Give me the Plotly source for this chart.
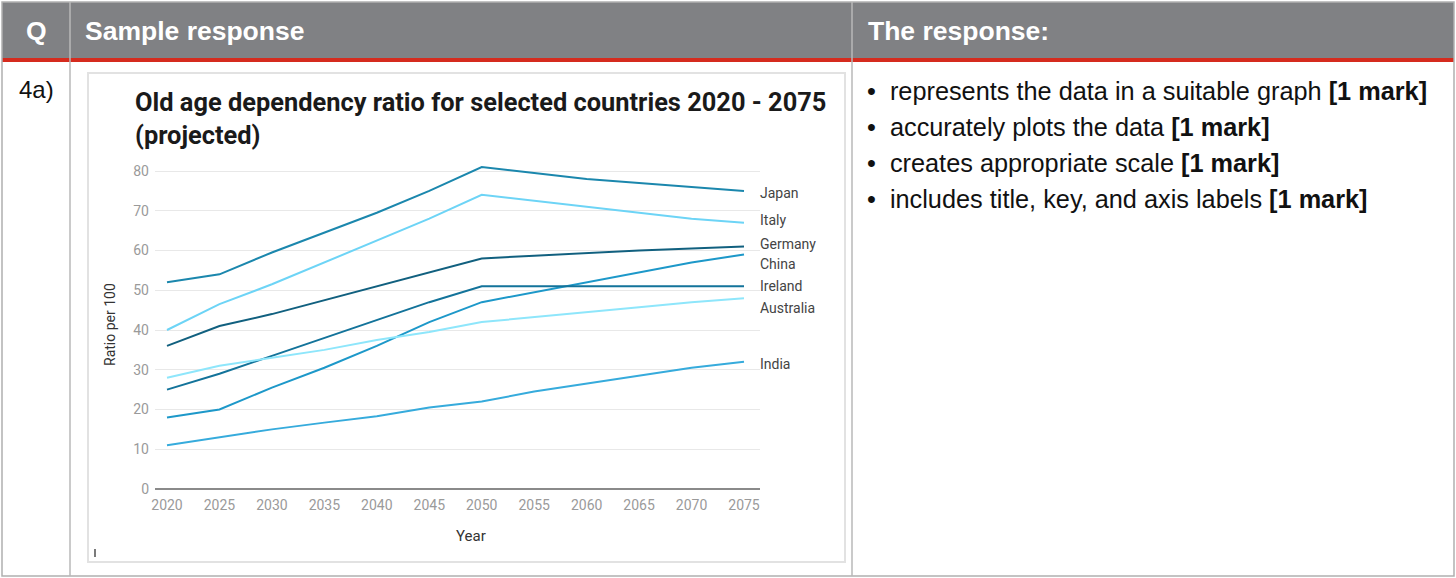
import plotly.graph_objects as go

years = [2020, 2025, 2030, 2035, 2040, 2045, 2050, 2055, 2060, 2065, 2070, 2075]
japan = [52, 54, 59.5, 64.5, 69.5, 75, 81, 79.5, 78, 77, 76, 75]
italy = [40, 46.5, 51.5, 57, 62.5, 68, 74, 72.5, 71, 69.5, 68, 67]
germany = [36, 41, 44, 47.5, 51, 54.5, 58, 58.7, 59.4, 60, 60.5, 61]
china = [18, 20, 25.5, 30.5, 36, 42, 47, 49.5, 52, 54.5, 57, 59]
ireland = [25, 29, 33.5, 38, 42.5, 47, 51, 51, 51, 51, 51, 51]
australia = [28, 31, 33, 35, 37.5, 39.5, 42, 43.2, 44.5, 45.7, 47, 48]
india = [11, 13, 15, 16.7, 18.3, 20.5, 22, 24.5, 26.5, 28.5, 30.5, 32]

countries = ["Japan", "Italy", "Germany", "China", "Ireland", "Australia", "India"]
series = [japan, italy, germany, china, ireland, australia, india]
colors = ["#1b87ad", "#6dd4f6", "#11607f", "#1d98c9", "#13739a", "#8ee6fb", "#36abdc"]
label_shift = [-2, 3, 3, -10, 0, -10, -2]

yticks = [0, 10, 20, 30, 40, 50, 60, 70, 80]
xticks = years

bullets = [
    "represents the data in a suitable graph",
    "accurately plots the data",
    "creates appropriate scale",
    "includes title, key, and axis labels",
]

W, H = 1456, 578


def px(x):
    return x / W


def py(y):
    return 1 - y / H


fig = go.Figure()
for name, vals, col in zip(countries, series, colors):
    fig.add_trace(go.Scatter(x=years, y=vals, mode="lines", name=name,
                             line=dict(color=col, width=2), showlegend=False,
                             hoverinfo="x+y+name"))

shapes = []
shapes.append(dict(type="rect", xref="paper", yref="paper", x0=px(2), x1=px(1454), y0=py(58), y1=py(2),
                   fillcolor="#808184", line=dict(width=0), layer="below"))
shapes.append(dict(type="rect", xref="paper", yref="paper", x0=px(2), x1=px(1454), y0=py(62), y1=py(58),
                   fillcolor="#d52b1e", line=dict(width=0), layer="below"))
shapes.append(dict(type="rect", xref="paper", yref="paper", x0=px(2), x1=px(1454), y0=py(576), y1=py(2),
                   fillcolor="rgba(0,0,0,0)", line=dict(color="#b0b0b0", width=1.5), layer="below"))
for cx in [70, 852]:
    shapes.append(dict(type="line", xref="paper", yref="paper", x0=px(cx), x1=px(cx), y0=py(576), y1=py(2),
                       line=dict(color="#b8b8b8", width=1.5), layer="below"))
shapes.append(dict(type="rect", xref="paper", yref="paper", x0=px(88), x1=px(845), y0=py(562), y1=py(73),
                   fillcolor="white", line=dict(color="#e2e2e2", width=2), layer="below"))
shapes.append(dict(type="line", xref="paper", yref="paper", x0=px(95), x1=px(95), y0=py(557), y1=py(549),
                   line=dict(color="#222", width=1.2)))

annotations = []
hdr_font = dict(family="Liberation Sans", size=26.5, color="white")
annotations.append(dict(text="<b>Q</b>", x=px(36), y=py(31), xref="paper", yref="paper", showarrow=False,
                        font=hdr_font, xanchor="center", yanchor="middle"))
annotations.append(dict(text="<b>Sample response</b>", x=px(83), y=py(31), xref="paper", yref="paper", showarrow=False,
                        font=hdr_font, xanchor="left", yanchor="middle"))
annotations.append(dict(text="<b>The response:</b>", x=px(866), y=py(31), xref="paper", yref="paper", showarrow=False,
                        font=hdr_font, xanchor="left", yanchor="middle"))
annotations.append(dict(text="4a)", x=px(17), y=py(90), xref="paper", yref="paper", showarrow=False,
                        font=dict(family="Liberation Sans", size=24, color="#111"), xanchor="left", yanchor="middle"))
for i, b in enumerate(bullets):
    annotations.append(dict(text="\u2022  " + b + " <b>[1 mark]</b>", x=px(865), y=py(91 + 36 * i),
                            xref="paper", yref="paper", showarrow=False,
                            font=dict(family="Liberation Sans", size=25.3, color="#111"),
                            xanchor="left", yanchor="middle"))
annotations.append(dict(text="<b>Old age dependency ratio for selected countries 2020 - 2075<br>(projected)</b>",
                        x=px(133), y=py(119), xref="paper", yref="paper", showarrow=False, align="left",
                        font=dict(family="Roboto", size=25.4, color="#1a1a1a"), xanchor="left", yanchor="middle"))
annotations.append(dict(text="Ratio per 100", x=px(110), y=py(325), xref="paper", yref="paper", showarrow=False,
                        textangle=-90, font=dict(family="Roboto", size=14, color="#333"),
                        xanchor="center", yanchor="middle"))
annotations.append(dict(text="Year", x=px(471), y=py(536), xref="paper", yref="paper", showarrow=False,
                        font=dict(family="Roboto", size=15, color="#333"), xanchor="center", yanchor="middle"))
for name, vals, col, sh in zip(countries, series, colors, label_shift):
    annotations.append(dict(text=name, x=years[-1], y=vals[-1], xref="x", yref="y", showarrow=False,
                            xanchor="left", yanchor="middle", xshift=14, yshift=sh,
                            font=dict(family="Roboto", size=14, color="#444")))

ppu_y = (489 - 171) / 80
ppu_x = (744 - 167) / 55
fig.update_layout(
    width=W, height=H, margin=dict(l=0, r=0, t=0, b=0, pad=0, autoexpand=False),
    paper_bgcolor="white", plot_bgcolor="rgba(0,0,0,0)",
    shapes=shapes, annotations=annotations,
    xaxis=dict(domain=[px(155), px(760)], range=[2020 - 12 / ppu_x, 2075 + 16 / ppu_x], automargin=False,
               tickvals=xticks, ticktext=[str(v) for v in xticks], showgrid=False, zeroline=False,
               showline=False, ticks="", tickfont=dict(family="Roboto", size=14, color="#9a9a9a"),
               ticklabelstandoff=6),
    yaxis=dict(domain=[py(489), py(162)], range=[0, (489 - 162) / ppu_y], automargin=False,
               tickvals=yticks, showgrid=True, gridcolor="#e8e8e8", gridwidth=1, zeroline=True,
               zerolinecolor="#8a8a8a", zerolinewidth=1.5, showline=False, ticks="",
               tickfont=dict(family="Roboto", size=14, color="#9a9a9a"), ticklabelstandoff=5),
)
fig.write_html("out.html", config={"displayModeBar": False},
               post_script="document.body.style.margin='0';document.body.style.overflow='hidden';")
